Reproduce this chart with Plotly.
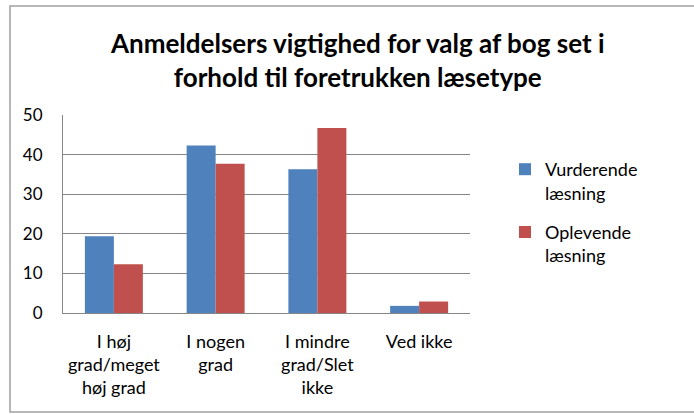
import plotly.graph_objects as go

categories = ["I høj<br>grad/meget<br>høj grad", "I nogen<br>grad", "I mindre<br>grad/Slet<br>ikke", "Ved ikke"]
series_names = ["Vurderende<br>læsning", "Oplevende<br>læsning"]
vurderende = [19.4, 42.3, 36.3, 1.8]
oplevende = [12.3, 37.7, 46.7, 2.9]
y_ticks = [0, 10, 20, 30, 40, 50]
title_text = "Anmeldelsers vigtighed for valg af bog set i<br>forhold til foretrukken læsetype"

FONT = "Lato, 'Open Sans', sans-serif"

fig = go.Figure()
fig.add_trace(go.Bar(x=categories, y=vurderende, name=series_names[0], legendgroup="a",
                     marker=dict(color="#4F81BD", line=dict(width=0))))
fig.add_trace(go.Bar(x=categories, y=oplevende, name=series_names[1], legendgroup="b",
                     marker=dict(color="#C0504D", line=dict(width=0))))

W, H = 694, 414
L, R, T, B = 63, W - 470, 115, H - 313
pw = W - L - R
ph = H - T - B

def px_x(x):
    return (x - L) / pw

def px_y(y):
    return (H - B - y) / ph

fig.update_layout(
    width=W, height=H,
    margin=dict(l=L, r=R, t=T, b=B, pad=0),
    paper_bgcolor="white", plot_bgcolor="white",
    font=dict(family=FONT, size=18, color="black"),
    barmode="group", bargap=0.43, bargroupgap=0,
    showlegend=True,
    legend=dict(x=px_x(505), y=px_y(151), xanchor="left", yanchor="top",
                font=dict(family=FONT, size=18, color="black"),
                tracegroupgap=13, itemwidth=30, traceorder="grouped", valign="top",
                bgcolor="rgba(0,0,0,0)"),
    xaxis=dict(showline=True, linecolor="#868686", linewidth=1, ticks="",
               tickfont=dict(size=18), showgrid=False, fixedrange=True,
               ticklabelstandoff=12),
    yaxis=dict(range=[0, 50], tickvals=y_ticks, showline=True, linecolor="#868686",
               linewidth=1, showgrid=True, gridcolor="#868686", gridwidth=1,
               ticks="", tickfont=dict(size=17), zeroline=False, fixedrange=True,
               ticklabelstandoff=16),
)

fig.add_annotation(text="<b>" + title_text + "</b>", xref="paper", yref="paper",
                   x=px_x(357), y=px_y(60), xanchor="center", yanchor="middle",
                   showarrow=False, align="center",
                   font=dict(family=FONT, size=26, color="black"))

fig.add_shape(type="rect", xref="paper", yref="paper",
              x0=px_x(10), x1=px_x(720), y0=px_y(412), y1=px_y(6),
              line=dict(color="#A0A0A0", width=1.5), fillcolor="rgba(0,0,0,0)", layer="below")

fig.write_html("out.html", config={"displayModeBar": False},
               post_script="document.body.style.margin='0px';")
